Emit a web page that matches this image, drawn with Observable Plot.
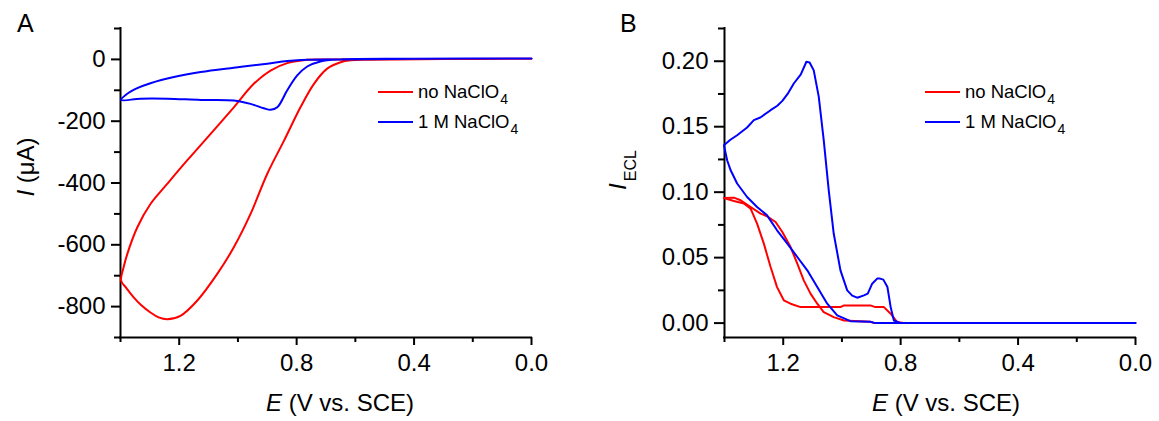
<!DOCTYPE html>
<html><head><meta charset="utf-8">
<script src="https://cdn.jsdelivr.net/npm/d3@7"></script>
<script src="https://cdn.jsdelivr.net/npm/@observablehq/plot@0.6"></script>
<style>
body{margin:0;background:#fff;}
#wrap{position:relative;width:1159px;height:421px;font-family:"Liberation Sans",Arial,sans-serif;}
#wrap svg{position:absolute;top:0;}
</style></head><body><div id="wrap"></div><script>
// ---- Panel A: cyclic voltammograms, I (µA) vs E (V)
const aNoE = [0.0, 0.3, 0.55, 0.616, 0.650, 0.696, 0.741, 0.787, 0.843, 0.900, 0.957, 1.014, 1.071, 1.139, 1.196, 1.241, 1.270, 1.298, 1.330, 1.355, 1.380, 1.398, 1.390, 1.377, 1.343, 1.298, 1.241, 1.173, 1.093, 1.014, 0.946, 0.889, 0.832, 0.764, 0.70, 0.4, 0.0];
const aNoI = [2, 1, -1, -3, -9, -30, -79, -155, -263, -370, -500, -608, -695, -781, -830, -841, -835, -819, -795, -770, -740, -716, -675, -630, -544, -468, -403, -327, -241, -155, -79, -36, -12, -1, 0, 1, 2];
const aNaE = [0.0, 0.4, 0.65, 0.719, 0.764, 0.798, 0.832, 0.866, 0.889, 0.912, 0.957, 1.014, 1.127, 1.241, 1.332, 1.398, 1.377, 1.343, 1.298, 1.218, 1.127, 1.014, 0.900, 0.832, 0.764, 0.65, 0.4, 0.0];
const aNaI = [3, 2, 0, -6.5, -23, -52, -100, -155, -163, -158, -144, -133, -131, -127, -127, -131, -111, -93, -77, -57, -41, -27, -14, -5.5, -1, 0, 2, 3];
const aYMajor = [0, -200, -400, -600, -800];
const aYMinor = [100, -100, -300, -500, -700, -900];

// ---- Panel B: ECL intensity vs E (V)
const bNoE = [0.0, 0.5, 0.79, 0.812, 0.834, 0.857, 0.886, 0.903, 0.993, 1.005, 1.016, 1.141, 1.175, 1.198, 1.221, 1.243, 1.266, 1.289, 1.311, 1.334, 1.368, 1.402, 1.368, 1.345, 1.311, 1.277, 1.255, 1.226, 1.203, 1.175, 1.152, 1.130, 1.107, 1.084, 1.062, 1.028, 0.993, 0.903, 0.89, 0.5, 0.0];
const bNoI = [0, 0, 0, 0.0008, 0.0072, 0.0122, 0.0122, 0.0135, 0.0135, 0.0122, 0.0122, 0.0122, 0.0148, 0.0174, 0.0275, 0.0428, 0.0607, 0.076, 0.0874, 0.0913, 0.0933, 0.0955, 0.0958, 0.0938, 0.0887, 0.0836, 0.0816, 0.0772, 0.0696, 0.0581, 0.0454, 0.0326, 0.0225, 0.0148, 0.0084, 0.0046, 0.002, 0.001, 0, 0, 0];
const bNaE = [0.0, 0.5, 0.80, 0.823, 0.834, 0.845, 0.859, 0.870, 0.880, 0.897, 0.912, 0.925, 0.948, 0.965, 0.982, 1.005, 1.028, 1.045, 1.062, 1.079, 1.096, 1.110, 1.121, 1.140, 1.164, 1.185, 1.203, 1.220, 1.243, 1.278, 1.300, 1.323, 1.357, 1.380, 1.402, 1.391, 1.379, 1.357, 1.323, 1.289, 1.255, 1.221, 1.186, 1.152, 1.118, 1.084, 1.050, 1.016, 0.971, 0.903, 0.886, 0.80, 0.5, 0.0];
const bNaI = [0, 0, 0, 0.002, 0.0122, 0.0275, 0.0332, 0.034, 0.034, 0.0301, 0.0225, 0.0212, 0.0194, 0.021, 0.025, 0.0403, 0.0684, 0.1015, 0.1397, 0.173, 0.193, 0.199, 0.1996, 0.190, 0.183, 0.175, 0.1697, 0.166, 0.1626, 0.157, 0.155, 0.1494, 0.1435, 0.140, 0.1359, 0.1244, 0.1167, 0.1066, 0.0963, 0.0887, 0.0823, 0.0709, 0.0607, 0.0505, 0.0403, 0.0275, 0.0148, 0.0059, 0.0015, 0.001, 0, 0, 0, 0];
const bYMajor = [0, 0.05, 0.10, 0.15, 0.20];
const bYMinor = [0.025, 0.075, 0.125, 0.175, 0.225];

const xMajor = [1.2, 0.8, 0.4, 0.0];
const xMinor = [1.4, 1.0, 0.6, 0.2];
const seriesNames = ["no NaClO", "1 M NaClO"];
const colors = ["#ff0000", "#0000ff"];

const zip = (E, I) => E.map((e, i) => ({E: e, I: I[i]}));
const font = "'Liberation Sans', Arial, sans-serif";
const wrap = document.getElementById("wrap");

function panel({width, left, mL, mR, yDomain, yMajor, yMinor, yFmt, tickY, padY, series, curve}) {
  const svg = Plot.plot({
    width, height: 421,
    marginLeft: mL, marginRight: mR, marginTop: 28, marginBottom: 84,
    x: {domain: [1.4, 0]},
    y: {domain: yDomain},
    style: {fontFamily: font, fontSize: "24px", color: "black", background: "transparent", overflow: "visible"},
    marks: [
      Plot.ruleX([1.4], {stroke: "black", strokeWidth: 2, strokeLinecap: "square"}),
      Plot.ruleY([yDomain[0]], {stroke: "black", strokeWidth: 2, strokeLinecap: "square"}),
      Plot.axisY(yMajor, {tickSize: tickY, tickPadding: padY, strokeWidth: 2, fontSize: 24, label: null, tickFormat: yFmt}),
      Plot.axisY(yMinor, {tickSize: 6, strokeWidth: 2, label: null, tickFormat: () => ""}),
      Plot.axisX(xMajor, {tickSize: 8, tickPadding: 8, strokeWidth: 2, fontSize: 24, label: null, tickFormat: d => d.toFixed(1)}),
      Plot.axisX(xMinor, {tickSize: 5, strokeWidth: 2, label: null, tickFormat: () => ""}),
      ...series.map((s, i) => Plot.line(s, {x: "E", y: "I", stroke: colors[i], strokeWidth: 2, curve}))
    ]
  });
  svg.style.left = left + "px";
  wrap.appendChild(svg);
}

panel({width: 580, left: 0, mL: 120, mR: 49, yDomain: [-900, 100], yMajor: aYMajor, yMinor: aYMinor,
  yFmt: d => String(d), tickY: 9, padY: 6, series: [zip(aNoE, aNoI), zip(aNaE, aNaI)], curve: "catmull-rom"});
panel({width: 579, left: 580, mL: 144, mR: 24, yDomain: [-0.011, 0.225], yMajor: bYMajor, yMinor: bYMinor,
  yFmt: d => d.toFixed(2), tickY: 10, padY: 6, series: [zip(bNoE, bNoI), zip(bNaE, bNaI)], curve: "linear"});

// ---- overlay text: panel letters, axis titles, legends
const ov = d3.select(wrap).append("svg").attr("width", 1159).attr("height", 421)
  .style("left", "0px").style("pointer-events", "none").attr("font-family", font);

ov.append("text").attr("x", 17).attr("y", 32).attr("font-size", 25).text("A");
ov.append("text").attr("x", 620).attr("y", 32).attr("font-size", 25).text("B");

for (const cx of [340, 946]) {
  const t = ov.append("text").attr("x", cx).attr("y", 411).attr("font-size", 24).attr("text-anchor", "middle");
  t.append("tspan").attr("font-style", "italic").text("E");
  t.append("tspan").text(" (V vs. SCE)");
}
{
  const t = ov.append("text").attr("transform", "translate(34,167) rotate(-90)").attr("font-size", 24).attr("text-anchor", "middle");
  t.append("tspan").attr("font-style", "italic").text("I");
  t.append("tspan").text(" (μA)");
}
{
  const t = ov.append("text").attr("transform", "translate(626,170) rotate(-90)").attr("font-size", 24).attr("text-anchor", "middle");
  t.append("tspan").attr("font-style", "italic").text("I");
  t.append("tspan").attr("font-size", 16).attr("dy", 10).attr("dx", 2).text("ECL");
}

function legend(x0) {
  seriesNames.forEach((name, i) => {
    const y = 92 + i * 30;
    ov.append("line").attr("x1", x0).attr("x2", x0 + 35).attr("y1", y).attr("y2", y)
      .attr("stroke", colors[i]).attr("stroke-width", 2);
    const t = ov.append("text").attr("x", x0 + 40).attr("y", y + 6).attr("font-size", 18.5);
    t.append("tspan").text(name);
    t.append("tspan").attr("font-size", 14).attr("dy", 6).attr("dx", 1).text("4");
  });
}
legend(378);
legend(925);
</script></body></html>
